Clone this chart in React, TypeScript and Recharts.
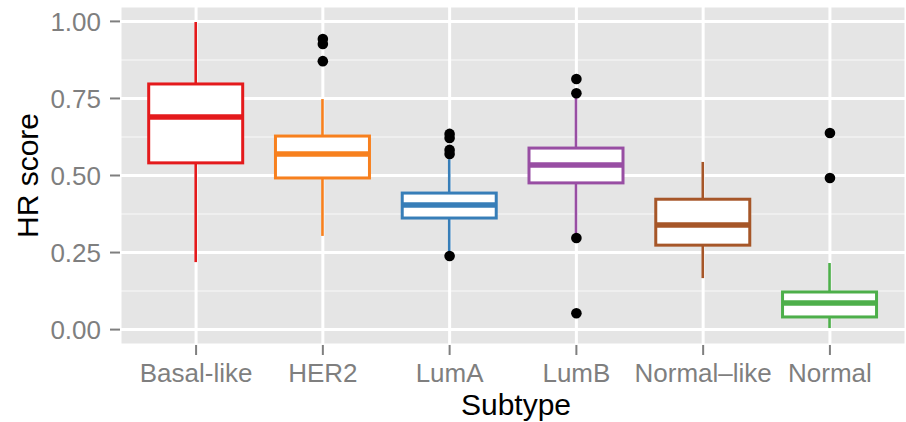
import {
  ComposedChart,
  Bar,
  Scatter,
  XAxis,
  YAxis,
  CartesianGrid,
} from 'recharts'

// HR score per breast cancer subtype
const subtypes = ['Basal-like', 'HER2', 'LumA', 'LumB', 'Normal–like', 'Normal']
const colors = ['#E41A1C', '#F7801E', '#377EB8', '#984EA3', '#A65628', '#4DAF4A']

const whiskerLow = [0.219, 0.304, 0.245, 0.31, 0.167, 0.005]
const q1 = [0.541, 0.492, 0.362, 0.476, 0.274, 0.041]
const median = [0.69, 0.57, 0.404, 0.534, 0.339, 0.086]
const q3 = [0.797, 0.628, 0.443, 0.589, 0.423, 0.122]
const whiskerHigh = [0.998, 0.748, 0.553, 0.757, 0.544, 0.216]

const outliers = [
  [],
  [0.943, 0.927, 0.871],
  [0.635, 0.622, 0.583, 0.57, 0.239],
  [0.813, 0.767, 0.297, 0.053],
  [],
  [0.638, 0.492],
]

const yTicks = [0, 0.25, 0.5, 0.75, 1]
const yMinor = [0.125, 0.375, 0.625, 0.875]
const yDomain = [-0.05, 1.05]

const FONT = '"Liberation Sans", Arial, Helvetica, sans-serif'
const GREY = '#7F7F7F'

const boxData = subtypes.map((name, i) => ({
  name,
  box: [q1[i], q3[i]],
  lo: whiskerLow[i],
  q1: q1[i],
  med: median[i],
  q3: q3[i],
  hi: whiskerHigh[i],
  color: colors[i],
}))

const outlierData = outliers.flatMap((vals, i) =>
  vals.map(v => ({ pos: i + 1, v }))
)

function BoxShape(props: any) {
  const { x, y, width, height, payload } = props
  const top = Math.min(y, y + height)
  const h = Math.abs(height)
  const k = h / (payload.q3 - payload.q1)
  const py = (v: number) => top + (payload.q3 - v) * k
  const cx = x + width / 2
  const c = payload.color
  return (
    <g>
      <line x1={cx} x2={cx} y1={py(payload.hi)} y2={top} stroke={c} strokeWidth={2.6} />
      <line x1={cx} x2={cx} y1={top + h} y2={py(payload.lo)} stroke={c} strokeWidth={2.6} />
      <rect x={x} y={top} width={width} height={h} fill="#fff" stroke={c} strokeWidth={3} />
      <line x1={x} x2={x + width} y1={py(payload.med)} y2={py(payload.med)} stroke={c} strokeWidth={5.5} />
    </g>
  )
}

function YTitle(props: any) {
  const vb = props.viewBox || { x: 0, y: 6, width: 120, height: 339 }
  const tx = vb.x + 38
  const ty = vb.y + vb.height / 2
  return (
    <text x={tx} y={ty} transform={`rotate(-90 ${tx} ${ty})`} textAnchor="middle"
      fontSize={30} fill="#000" fontFamily={FONT}>
      HR score
    </text>
  )
}

function XTitle(props: any) {
  const vb = props.viewBox || { x: 120, y: 345, width: 786, height: 77 }
  return (
    <text x={vb.x + vb.width / 2 + 3} y={vb.y + vb.height - 7} textAnchor="middle"
      fontSize={30} fill="#000" fontFamily={FONT}>
      Subtype
    </text>
  )
}

export default function App() {
  return (
    <div style={{ position: 'absolute', left: 0, top: 0, width: 906, height: 422, background: '#fff' }}>
      <ComposedChart
        width={906}
        height={422}
        data={boxData}
        margin={{ top: 6, right: 0, bottom: 0, left: 0 }}
        style={{ fontFamily: FONT }}
      >
        {/* minor grid first (with panel fill), major grid on top */}
        <CartesianGrid
          xAxisId="cat"
          yAxisId="minor"
          vertical={false}
          fill="#E5E5E5"
          stroke="#F2F2F2"
          strokeWidth={1.5}
        />
        <CartesianGrid
          xAxisId="cat"
          stroke="#fff"
          strokeWidth={3}
        />

        <XAxis
          xAxisId="cat"
          dataKey="name"
          height={77}
          padding={{ left: 12.7, right: 12.7 }}
          axisLine={false}
          tickLine={{ stroke: GREY, strokeWidth: 2 }}
          tickSize={10}
          tickMargin={9}
          tick={{ fontSize: 26, fill: GREY, fontFamily: FONT }}
          interval={0}
          label={<XTitle />}
        />

        <XAxis
          xAxisId="num"
          dataKey="pos"
          type="number"
          domain={[0.4, 6.6]}
          allowDataOverflow
          hide
        />

        <YAxis
          width={120}
          type="number"
          domain={yDomain}
          allowDataOverflow
          ticks={yTicks}
          tickFormatter={(v: number) => v.toFixed(2)}
          axisLine={false}
          tickLine={{ stroke: GREY, strokeWidth: 2 }}
          tickSize={10}
          tickMargin={9}
          tick={{ fontSize: 26, fill: GREY, fontFamily: FONT }}
          label={<YTitle />}
        />

        <YAxis
          yAxisId="minor"
          type="number"
          domain={yDomain}
          allowDataOverflow
          ticks={yMinor}
          hide
        />

        <Bar
          xAxisId="cat"
          dataKey="box"
          barSize={94}
          shape={<BoxShape />}
          isAnimationActive={false}
        />

        <Scatter
          xAxisId="num"
          data={outlierData}
          dataKey="v"
          shape={(p: any) => <circle cx={p.cx} cy={p.cy} r={5.3} fill="#000" />}
          isAnimationActive={false}
        />
      </ComposedChart>
    </div>
  )
}
